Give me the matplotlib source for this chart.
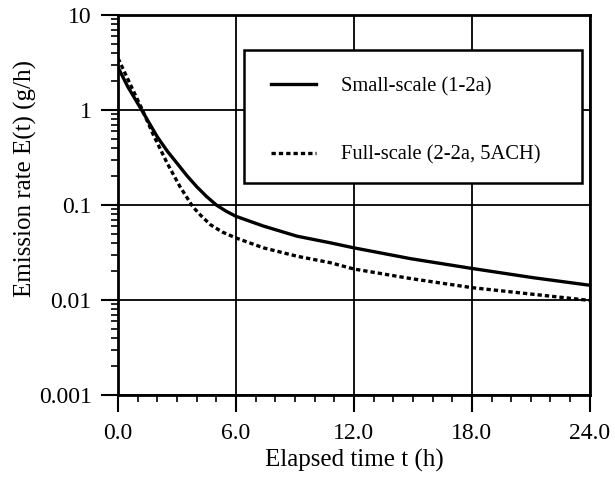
import numpy as np
import matplotlib.pyplot as plt
from matplotlib.patches import Rectangle
from matplotlib.ticker import MultipleLocator, LogLocator, FixedLocator, NullFormatter

plt.rcParams['font.family'] = ['Liberation Serif', 'DejaVu Serif']

t_small = [0, 0.5, 1.2, 1.6, 2.0, 2.5, 3.0, 3.5, 4.0, 4.5, 5.0, 5.5, 6.0, 7.4, 9.1, 10.8, 12.0,
           14.9, 18.0, 21.1, 24.0]
e_small = [2.8, 1.75, 1.0, 0.72, 0.52, 0.37, 0.275, 0.204, 0.156, 0.123, 0.1, 0.086, 0.076,
           0.06, 0.047, 0.040, 0.0354, 0.0272, 0.0215, 0.0172, 0.0143]

t_full = [0, 0.6, 1.2, 1.8, 2.5, 3.15, 3.8, 4.2, 4.7, 5.3, 6.0, 7.4, 9.1, 10.8, 12.0, 14.9,
          18.0, 21.1, 24.0]
e_full = [3.5, 1.9, 1.04, 0.545, 0.275, 0.156, 0.096, 0.078, 0.062, 0.052, 0.045, 0.0354,
          0.0289, 0.0247, 0.0212, 0.0168, 0.0135, 0.0115, 0.0099]

x_ticks = [0, 6, 12, 18, 24]
x_labels = ['0.0', '6.0', '12.0', '18.0', '24.0']
y_ticks = [0.001, 0.01, 0.1, 1, 10]
y_labels = ['0.001', '0.01', '0.1', '1', '10']

fig = plt.figure(figsize=(6.15, 4.78), dpi=100)
ax = fig.add_axes([0.192, 0.1736, 0.767, 0.795])

ax.plot(t_small, e_small, color='black', lw=2.4, label='Small-scale (1-2a)')
ax.plot(t_full, e_full, color='black', lw=2.4, ls=(0, (1.3, 0.9)), label='Full-scale (2-2a, 5ACH)')

ax.set_yscale('log')
ax.set_xlim(0, 24)
ax.set_ylim(0.001, 10)

ax.xaxis.set_major_locator(FixedLocator(x_ticks))
ax.set_xticklabels(x_labels)
ax.xaxis.set_minor_locator(MultipleLocator(1))
ax.yaxis.set_major_locator(FixedLocator(y_ticks))
ax.set_yticklabels(y_labels)
ax.yaxis.set_minor_locator(LogLocator(base=10, subs=np.arange(2, 10)))
ax.yaxis.set_minor_formatter(NullFormatter())

ax.tick_params(which='major', direction='out', length=12, width=1.5, labelsize=17, pad=7)
ax.tick_params(which='minor', direction='out', length=5, width=1.2)
ax.tick_params(axis='x', which='major', pad=8)

for s in ax.spines.values():
    s.set_linewidth(2)

ax.grid(True, which='major', color='black', lw=1.3)

ax.set_xlabel('Elapsed time t (h)', fontsize=18, labelpad=4)
ax.set_ylabel('Emission rate E(t) (g/h)', fontsize=18)
ax.yaxis.set_label_coords(-0.172, 0.571)

# legend box drawn by hand so its padding matches
box = Rectangle((0.267, 0.558), 0.716, 0.35, transform=ax.transAxes, facecolor='white',
                edgecolor='black', lw=1.8, zorder=3)
ax.add_patch(box)
leg = ax.legend(loc='upper left', bbox_to_anchor=(0.267, 0.908, 0.716, 0), mode='expand',
                borderaxespad=0, fontsize=14.8, frameon=False, borderpad=1.3,
                labelspacing=2.4, handlelength=2.2, handletextpad=1.2)
leg.set_zorder(4)

fig.savefig('out.png', dpi=100)
